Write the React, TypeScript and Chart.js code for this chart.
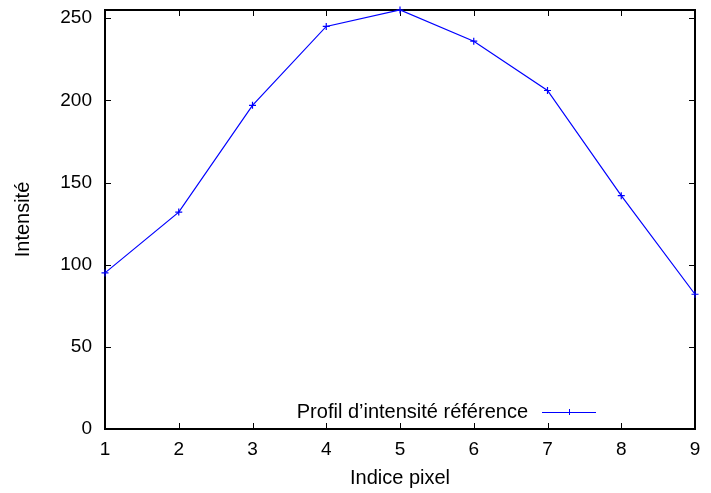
import React, { useEffect, useRef } from "react";
import { Chart, registerables } from "chart.js";

Chart.register(...registerables);

const pixelIndex = [1, 2, 3, 4, 5, 6, 7, 8, 9];
const intensity = [95, 132, 197, 245, 255, 236, 206, 142, 82];
const yTickValues = [0, 50, 100, 150, 200, 250];
const seriesLabel = "Profil d\u2019intensité référence";
const xTitle = "Indice pixel";
const yTitle = "Intensité";

const FONT = "'Liberation Sans', Arial, sans-serif";

const framePlugin = {
  id: "frame",
  beforeDatasetsDraw(chart: any) {
    const { ctx, chartArea, scales } = chart;
    const { left, right, top, bottom } = chartArea;
    ctx.save();
    ctx.strokeStyle = "#000";
    ctx.lineWidth = 1;
    const tl = 6;
    scales.x.ticks.forEach((t: any) => {
      const px = Math.round(scales.x.getPixelForValue(t.value)) + 0.5;
      ctx.beginPath();
      ctx.moveTo(px, bottom);
      ctx.lineTo(px, bottom - tl);
      ctx.moveTo(px, top);
      ctx.lineTo(px, top + tl);
      ctx.stroke();
    });
    scales.y.ticks.forEach((t: any) => {
      const py = Math.round(scales.y.getPixelForValue(t.value)) + 0.5;
      ctx.beginPath();
      ctx.moveTo(left, py);
      ctx.lineTo(left + tl, py);
      ctx.moveTo(right, py);
      ctx.lineTo(right - tl, py);
      ctx.stroke();
    });
    ctx.lineWidth = 2;
    ctx.strokeRect(left, top, right - left, bottom - top);
    ctx.restore();
  },
  afterDraw(chart: any) {
    const { ctx, chartArea } = chart;
    const { right, bottom } = chartArea;
    const ly = bottom - 17;
    const lineEnd = right - 99;
    const lineStart = lineEnd - 54;
    ctx.save();
    ctx.font = `20px ${FONT}`;
    ctx.fillStyle = "#000";
    ctx.textAlign = "right";
    ctx.textBaseline = "middle";
    ctx.fillText(seriesLabel, lineStart - 14, ly);
    ctx.strokeStyle = "#0000ff";
    ctx.lineWidth = 1;
    ctx.beginPath();
    ctx.moveTo(lineStart, ly + 0.5);
    ctx.lineTo(lineEnd, ly + 0.5);
    const mx = Math.round((lineStart + lineEnd) / 2) + 0.5;
    ctx.moveTo(mx, ly - 3);
    ctx.lineTo(mx, ly + 3);
    ctx.stroke();
    ctx.restore();
  },
};

export default function App() {
  const ref = useRef<HTMLCanvasElement>(null);
  useEffect(() => {
    document.body.style.margin = "0";
    const chart = new Chart(ref.current!, {
      type: "line",
      data: {
        datasets: [
          {
            label: seriesLabel,
            data: pixelIndex.map((x, i) => ({ x, y: intensity[i] })),
            borderColor: "#0000ff",
            backgroundColor: "#0000ff",
            borderWidth: 1.2,
            pointStyle: "cross",
            pointRadius: 3.5,
            pointBorderColor: "#0000ff",
            pointBorderWidth: 1.2,
            tension: 0,
            clip: false as any,
          },
        ],
      },
      options: {
        animation: false,
        responsive: false,
        devicePixelRatio: 1,
        layout: { padding: { top: 10, right: 16, left: 0, bottom: 0 } },
        plugins: { legend: { display: false }, tooltip: { enabled: false } },
        scales: {
          x: {
            type: "linear",
            min: 1,
            max: 9,
            ticks: { stepSize: 1, color: "#000", font: { family: FONT, size: 19 }, padding: 9 },
            grid: { display: false, drawTicks: false },
            border: { display: false },
            title: { display: true, text: xTitle, color: "#000", font: { family: FONT, size: 20 }, padding: { top: 2, bottom: 3 } },
            afterFit(scale: any) {
              scale.height = 64;
              scale.paddingLeft = 0;
              scale.paddingRight = 0;
            },
          },
          y: {
            type: "linear",
            min: 0,
            max: 255,
            afterBuildTicks(scale: any) {
              scale.ticks = yTickValues.map((v) => ({ value: v }));
            },
            ticks: { color: "#000", font: { family: FONT, size: 19 }, padding: 13 },
            grid: { display: false, drawTicks: false },
            border: { display: false },
            title: { display: true, text: yTitle, color: "#000", font: { family: FONT, size: 20 }, padding: { top: 11, bottom: 10 } },
            afterFit(scale: any) {
              scale.width = 105;
              scale.paddingTop = 0;
              scale.paddingBottom = 0;
            },
          },
        },
      },
      plugins: [framePlugin],
    });
    return () => chart.destroy();
  }, []);
  return (
    <div style={{ position: "absolute", left: 0, top: 0, width: 711, height: 493, background: "#fff" }}>
      <canvas ref={ref} width={711} height={493} style={{ width: 711, height: 493 }} />
    </div>
  );
}
